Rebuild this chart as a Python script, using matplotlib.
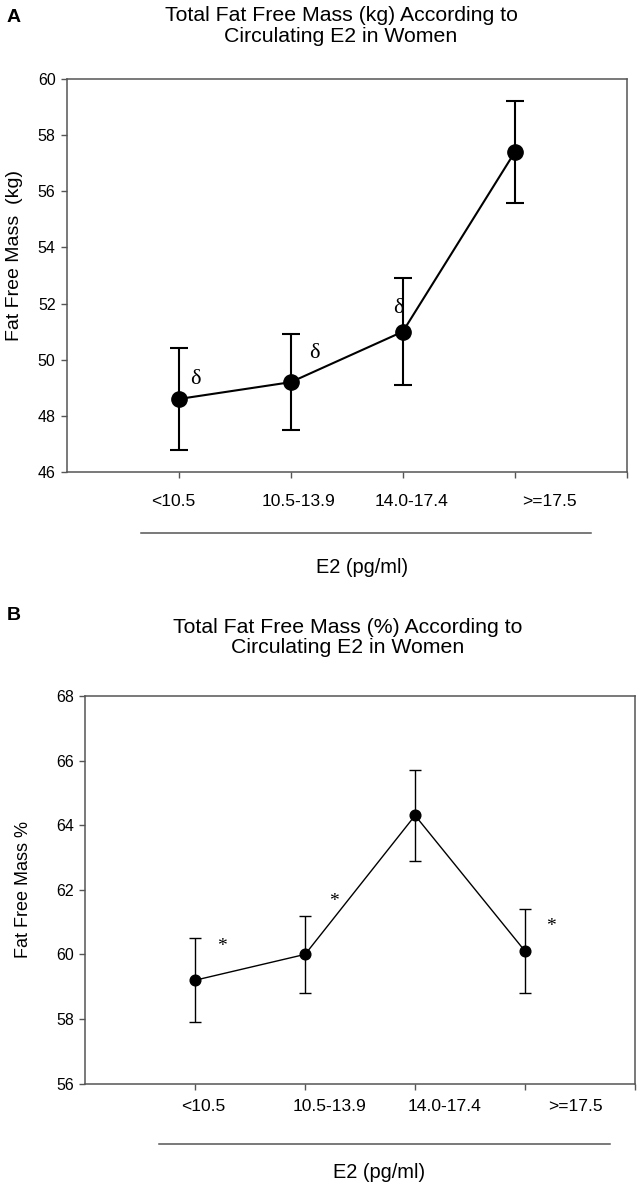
import matplotlib
matplotlib.use("Agg")
import matplotlib.pyplot as plt
from matplotlib.transforms import blended_transform_factory

# E2 groups (pg/ml)
E2_GROUPS = ["<10.5", "10.5-13.9", "14.0-17.4", ">=17.5"]
GROUP_POS = [1, 2, 3, 4]

# Panel A: fat free mass (kg), mean and error
FFM_KG = [48.6, 49.2, 51.0, 57.4]
FFM_KG_ERR = [1.8, 1.7, 1.9, 1.8]
KG_MARKS = ["δ", "δ", "δ", ""]

# Panel B: fat free mass (%), mean and error
FFM_PCT = [59.2, 60.0, 64.3, 60.1]
FFM_PCT_ERR = [1.3, 1.2, 1.4, 1.3]
PCT_MARKS = ["*", "*", "", "*"]

SPINE = "#555555"

fig = plt.figure(figsize=(6.41, 11.85), dpi=100)
plt.rcParams["font.family"] = ["Liberation Sans", "DejaVu Sans"]


def style_axes(ax, ylim, yticks):
    ax.set_xlim(0, 5)
    ax.set_ylim(*ylim)
    ax.set_yticks(yticks)
    ax.set_xticks([1, 2, 3, 4, 5])
    ax.set_xticklabels([])
    for s in ax.spines.values():
        s.set_color(SPINE)
        s.set_linewidth(1.1)
    ax.tick_params(axis="both", direction="out", length=4, width=1,
                   color=SPINE, labelsize=11.5)
    ax.tick_params(axis="y", pad=4)


def draw_panel(ax, means, errs, marks, mark_offsets, label_x, line_x,
               label_y, line_y, xlab_pos, msize, lw, cap, mark_font):
    ax.errorbar(GROUP_POS, means, yerr=errs, fmt="o-", color="black",
                markersize=msize, linewidth=lw, elinewidth=lw,
                capsize=cap, capthick=lw, zorder=3)
    for x, y, m, off in zip(GROUP_POS, means, marks, mark_offsets):
        if m:
            ax.annotate(m, (x, y), xytext=off, textcoords="offset points",
                        ha="center", va="center", **mark_font)
    tr = blended_transform_factory(ax.transData, ax.transAxes)
    for x, lab in zip(label_x, E2_GROUPS):
        ax.text(x, label_y, lab, transform=tr, ha="center", va="center",
                fontsize=12.6)
    ax.plot(line_x, [line_y, line_y], transform=tr, clip_on=False,
            color=SPINE, linewidth=1.1)
    ax.text(xlab_pos[0], xlab_pos[1], "E2 (pg/ml)", transform=tr,
            ha="center", va="center", fontsize=14.4)


# Panel A
ax1 = fig.add_axes([0.104, 0.6017, 0.874, 0.3316])
style_axes(ax1, (46, 60), range(46, 61, 2))
draw_panel(ax1, FFM_KG, FFM_KG_ERR, KG_MARKS,
           [(12, 14), (17, 21), (-3, 17), (0, 0)],
           [0.95, 2.07, 3.08, 4.31], [0.66, 4.68], -0.076, -0.155,
           (2.64, -0.242), 11, 1.5, 6.5,
           dict(fontsize=16, family=["Liberation Serif", "DejaVu Serif"]))
ax1.set_ylabel("Fat Free Mass  (kg)", fontsize=14)
ax1.yaxis.set_label_coords(-0.078, 0.55)

# Panel B
ax2 = fig.add_axes([0.133, 0.0856, 0.8576, 0.3271])
style_axes(ax2, (56, 68), range(56, 69, 2))
draw_panel(ax2, FFM_PCT, FFM_PCT_ERR, PCT_MARKS,
           [(19, 24), (21, 38), (0, 0), (19, 18)],
           [1.07, 2.22, 3.27, 4.46], [0.67, 4.77], -0.060, -0.156,
           (2.67, -0.230), 7.7, 1.0, 4.2,
           dict(fontsize=14, family=["Liberation Serif", "DejaVu Serif"]))
ax2.set_ylabel("Fat Free Mass %", fontsize=13)
ax2.yaxis.set_label_coords(-0.096, 0.50)

# Titles and panel letters (figure pixels from the top)
W, H = 641, 1185
for txt, x, y in [("Total Fat Free Mass (kg) According to", 341, 20.7),
                  ("Circulating E2 in Women", 341, 41.7),
                  ("Total Fat Free Mass (%) According to", 348, 632.7),
                  ("Circulating E2 in Women", 348, 653.3)]:
    fig.text(x / W, 1 - y / H, txt, ha="center", va="baseline",
             fontsize=15.3)
fig.text(14 / W, 1 - 21.7 / H, "A", ha="center", va="baseline",
         fontsize=14, fontweight="bold")
fig.text(14 / W, 1 - 620 / H, "B", ha="center", va="baseline",
         fontsize=14, fontweight="bold")

fig.savefig("out.png", dpi=100)
